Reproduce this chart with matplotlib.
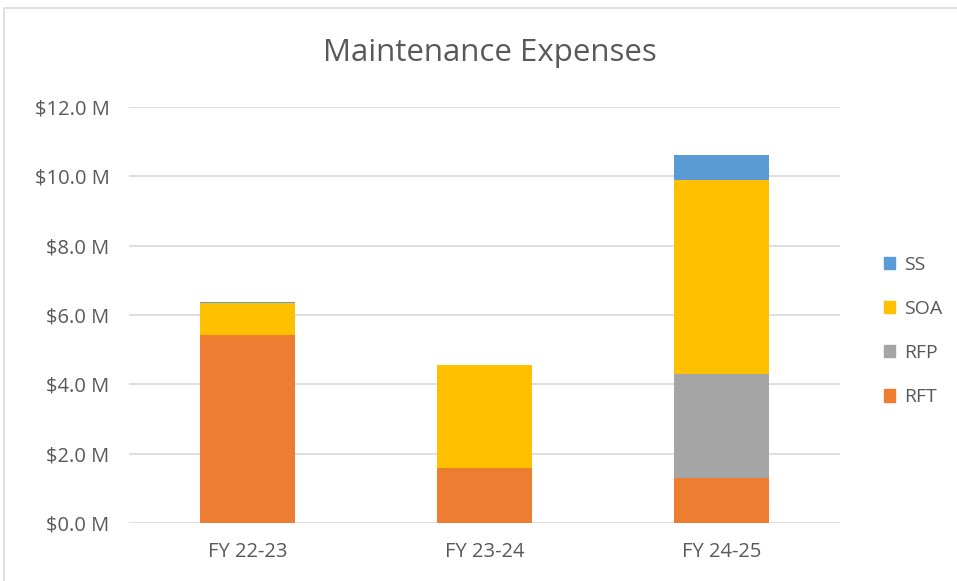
import matplotlib
matplotlib.use("Agg")
import matplotlib.pyplot as plt
from matplotlib.patches import Patch, Rectangle
import numpy as np

plt.rcParams['font.family'] = ['Open Sans', 'DejaVu Sans']

# data (millions of dollars)
years = ["FY 22-23", "FY 23-24", "FY 24-25"]
rft = [5.42, 1.59, 1.31]
rfp = [0.0, 0.0, 2.99]
soa = [0.93, 2.97, 5.59]
ss = [0.03, 0.0, 0.72]
yticks = [0, 2, 4, 6, 8, 10, 12]

series = [("RFT", rft, "#ed7d31"), ("RFP", rfp, "#a5a5a5"),
          ("SOA", soa, "#ffc000"), ("SS", ss, "#5b9bd5")]

fig = plt.figure(figsize=(9.57, 5.81), dpi=100)
ax = fig.add_axes([129 / 957, 1 - 523 / 581, (840 - 129) / 957, (523 - 107) / 581])

# chart border
fig.patches.append(Rectangle((4 / 957, -0.1), 1.1, 1 - 8 / 581 + 0.1,
                             transform=fig.transFigure, fill=False,
                             edgecolor="#d9d9d9", linewidth=1.2))

x = np.arange(len(years))
bottom = np.zeros(len(years))
for name, vals, col in series:
    ax.bar(x, vals, 0.4, bottom=bottom, color=col, zorder=3)
    bottom += np.array(vals)

ax.set_xlim(-0.5, 2.5)
ax.set_ylim(0, 12)
ax.set_yticks(yticks)
ax.set_yticklabels([f"${v:.1f} M" for v in yticks])
ax.set_xticks(x)
ax.set_xticklabels(years)
ax.yaxis.grid(True, color="#d9d9d9", linewidth=1.2, zorder=0)
for s in ax.spines.values():
    s.set_visible(False)
ax.tick_params(length=0, colors="#595959", labelsize=14.5)
ax.tick_params(axis="y", pad=14)
ax.tick_params(axis="x", pad=14)

fig.text(490 / 957, 1 - 53 / 581, "Maintenance Expenses", ha="center", va="center",
         fontsize=22.5, color="#595959")

handles = [Patch(color=c, label=n) for n, _, c in reversed(series)]
fig.legend(handles=handles, loc="center left", bbox_to_anchor=(866 / 957, 1 - 331 / 581),
           frameon=False, fontsize=14, labelcolor="#595959", handlelength=0.6,
           handleheight=0.6, handletextpad=0.45, labelspacing=1.35)

fig.savefig("out.png", dpi=100, facecolor="white")
